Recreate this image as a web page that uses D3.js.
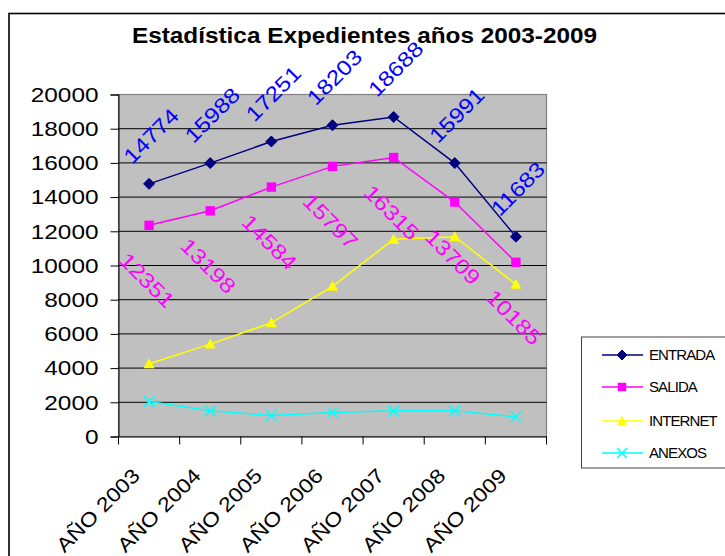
<!DOCTYPE html>
<html><head><meta charset="utf-8">
<script src="https://cdn.jsdelivr.net/npm/d3@7/dist/d3.min.js"></script>
<style>
body{margin:0;background:#fff;}
text{font-family:"Liberation Sans",Arial,sans-serif;}
</style></head>
<body>
<svg id="c" width="725" height="556"></svg>
<script>
const title = "Estadística Expedientes años 2003-2009";
const categories = ["AÑO 2003","AÑO 2004","AÑO 2005","AÑO 2006","AÑO 2007","AÑO 2008","AÑO 2009"];
const entrada  = [14774, 15988, 17251, 18203, 18688, 15991, 11683];
const salida   = [12351, 13198, 14584, 15797, 16315, 13709, 10185];
const internet = [4250, 5400, 6650, 8780, 11530, 11680, 8900];
const anexos   = [2040, 1500, 1230, 1400, 1500, 1500, 1150];
const yTicks = [0,2000,4000,6000,8000,10000,12000,14000,16000,18000,20000];

const series = [
  {name:"ENTRADA", values:entrada, color:"#000080", marker:"diamond", labelColor:"#0000FF", label:"above"},
  {name:"SALIDA", values:salida, color:"#FF00FF", marker:"square", labelColor:"#FF00FF", label:"below"},
  {name:"INTERNET", values:internet, color:"#FFFF00", marker:"triangle"},
  {name:"ANEXOS", values:anexos, color:"#00FFFF", marker:"x"}
];

const svg = d3.select("#c");
const L = 118.5, R = 546.5, T = 94.5, B = 436.5;
const x = d3.scaleBand().domain(categories).range([L, R]);
const y = d3.scaleLinear().domain([0, 20000]).range([B, T]);
const stretch = 1.16;
function widen(sel, f){ sel.each(function(){ const w=this.getComputedTextLength(); d3.select(this).attr("textLength", w*(f||stretch)).attr("lengthAdjust","spacingAndGlyphs"); }); }

// outer border
svg.append("rect").attr("x",9).attr("y",13.5).attr("width",800).attr("height",700)
  .attr("fill","#fff").attr("stroke","#000").attr("stroke-width",1.6);

// title
svg.append("text").attr("x",364.5).attr("y",43).attr("text-anchor","middle")
  .attr("font-size",22).attr("font-weight","bold")
  .attr("textLength",465).attr("lengthAdjust","spacingAndGlyphs").text(title);

// plot area
svg.append("rect").attr("x",L).attr("y",T).attr("width",R-L).attr("height",B-T)
  .attr("fill","#C0C0C0").attr("stroke","#808080").attr("stroke-width",1.2);

// gridlines
svg.append("g").selectAll("line").data(yTicks.filter(d=>d>0 && d<20000)).join("line")
  .attr("x1",L).attr("x2",R).attr("y1",d=>y(d)).attr("y2",d=>y(d))
  .attr("stroke","#000").attr("stroke-width",1);

// y axis
const ya = svg.append("g").attr("transform",`translate(${L},0)`)
  .call(d3.axisLeft(y).tickValues(yTicks).tickSize(8).tickPadding(12).tickFormat(d3.format("d")));
ya.select(".domain").attr("stroke","#000");
ya.selectAll(".tick line").attr("stroke","#000");
ya.selectAll("text").attr("font-size",21).attr("fill","#000").attr("font-family","Liberation Sans, Arial, sans-serif");
widen(ya.selectAll("text"));

// x axis
const xa = svg.append("g").attr("transform",`translate(0,${B})`)
  .call(d3.axisBottom(x).tickSize(0).tickFormat(""));
xa.select(".domain").attr("stroke","#000");
svg.append("g").selectAll("line").data(d3.range(categories.length+1)).join("line")
  .attr("x1",i=>L+i*x.step()).attr("x2",i=>L+i*x.step()).attr("y1",B).attr("y2",B+8)
  .attr("stroke","#000");
const xl = svg.append("g").selectAll("text").data(categories).join("text")
  .attr("transform",d=>`translate(${x(d)+x.bandwidth()/2-13},472) rotate(-45)`)
  .attr("text-anchor","end").attr("dy","0.35em").attr("font-size",20).text(d=>d);
widen(xl);

// markers
function drawMarker(g, type, color, cx, cy, s){
  if(type==="diamond") g.append("path").attr("d",`M${cx},${cy-s}L${cx+s},${cy}L${cx},${cy+s}L${cx-s},${cy}Z`).attr("fill",color).attr("stroke",color);
  else if(type==="square") g.append("rect").attr("x",cx-s*0.85).attr("y",cy-s*0.85).attr("width",s*1.7).attr("height",s*1.7).attr("fill",color);
  else if(type==="triangle") g.append("path").attr("d",`M${cx},${cy-s}L${cx+s},${cy+s*0.8}L${cx-s},${cy+s*0.8}Z`).attr("fill",color);
  else if(type==="x") g.append("path").attr("d",`M${cx-s},${cy-s}L${cx+s},${cy+s}M${cx-s},${cy+s}L${cx+s},${cy-s}`).attr("stroke",color).attr("stroke-width",1.5).attr("fill","none");
}
const line = d3.line().x((d,i)=>x(categories[i])+x.bandwidth()/2).y(d=>y(d));
[...series].reverse().forEach(s=>{
  const g = svg.append("g");
  g.append("path").attr("d",line(s.values)).attr("fill","none").attr("stroke",s.color).attr("stroke-width",1.5);
  s.values.forEach((v,i)=>drawMarker(g,s.marker,s.color,x(categories[i])+x.bandwidth()/2,y(v),5.5));
});

// data labels
series.filter(s=>s.label).forEach(s=>{
  const t = svg.append("g").selectAll("text").data(s.values).join("text")
    .attr("transform",(v,i)=>{
      const cx = x(categories[i])+x.bandwidth()/2, cy = y(v);
      return s.label==="above" ? `translate(${cx+2},${cy-48}) rotate(-45)` : `translate(${cx-2},${cy+55}) rotate(45)`;
    })
    .attr("text-anchor","middle").attr("dy","0.35em").attr("font-size",21)
    .attr("fill",s.labelColor).text(v=>v);
  widen(t);
});

// legend
const lg = svg.append("g");
lg.append("rect").attr("x",581.5).attr("y",337).attr("width",200).attr("height",131)
  .attr("fill","#fff").attr("stroke","#404040").attr("stroke-width",1);
const rows = [355,387,421,453];
series.forEach((s,i)=>{
  const yy = rows[i];
  lg.append("line").attr("x1",602).attr("x2",643).attr("y1",yy).attr("y2",yy).attr("stroke",s.color).attr("stroke-width",1.5);
  drawMarker(lg,s.marker,s.color,622,yy,5);
  lg.append("text").attr("x",649).attr("y",yy).attr("dy","0.36em").attr("font-size",15)
    .attr("letter-spacing",-0.9).text(s.name);
});
</script>
</body></html>
